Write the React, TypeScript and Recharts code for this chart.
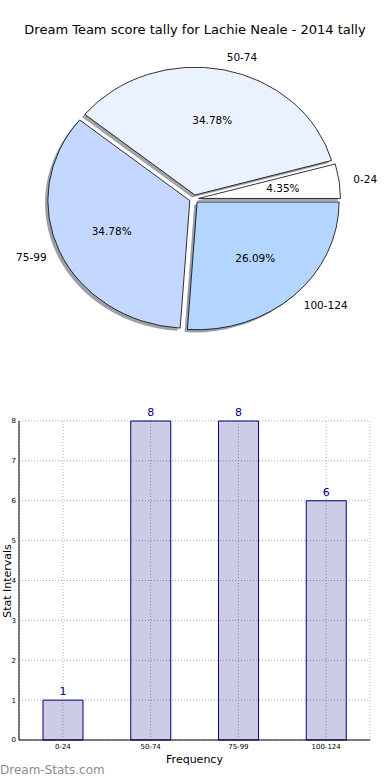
import { PieChart, Pie, Cell, BarChart, Bar, XAxis, YAxis, CartesianGrid, LabelList } from "recharts"

// score bands and how many games fell in each
const bands = ["0-24", "50-74", "75-99", "100-124"]
const counts = [1, 8, 8, 6]

const pieColors = ["#ffffff", "#eaf1ff", "#c4d8ff", "#b3d5ff"]
const FONT = "'DejaVu Sans', sans-serif"

// matplotlib pie was not axis-equal, so the pie is squashed a little
const RY = 0.9
const EXPLODE = 0.032

const rows = bands.map((b, i) => ({ name: b, value: counts[i] }))

// elliptical wedge path
function wedge(ox: number, oy: number, rx: number, ry: number, a0: number, a1: number) {
  const r0 = (a0 * Math.PI) / 180
  const r1 = (a1 * Math.PI) / 180
  const x0 = ox + rx * Math.cos(r0)
  const y0 = oy - ry * Math.sin(r0)
  const x1 = ox + rx * Math.cos(r1)
  const y1 = oy - ry * Math.sin(r1)
  const large = Math.abs(a1 - a0) > 180 ? 1 : 0
  return `M${ox},${oy} L${x0},${y0} A${rx},${ry} 0 ${large} 0 ${x1},${y1} Z`
}

function offsetCenter(p: any) {
  const rad = (p.midAngle * Math.PI) / 180
  const rx = p.outerRadius
  const ry = p.outerRadius * RY
  return {
    ox: p.cx + EXPLODE * rx * Math.cos(rad),
    oy: p.cy - EXPLODE * ry * Math.sin(rad),
    rx,
    ry,
  }
}

function shade(hex: string) {
  const n = parseInt(hex.slice(1), 16)
  const r = Math.round(((n >> 16) & 255) * 0.3)
  const g = Math.round(((n >> 8) & 255) * 0.3)
  const b = Math.round((n & 255) * 0.3)
  return `rgb(${r},${g},${b})`
}

const ShadowShape = (p: any) => {
  const { ox, oy, rx, ry } = offsetCenter(p)
  return <path d={wedge(ox - 2.8, oy + 2.6, rx, ry, p.startAngle, p.endAngle)} fill={shade(p.fill)} fillOpacity={0.5} stroke="none" />
}

const WedgeShape = (p: any) => {
  const { ox, oy, rx, ry } = offsetCenter(p)
  return <path d={wedge(ox, oy, rx, ry, p.startAngle, p.endAngle)} fill={p.fill} stroke="#000" strokeWidth={0.8} />
}

const renderLabel = (p: any) => {
  const { ox, oy, rx, ry } = offsetCenter(p)
  const rad = (p.midAngle * Math.PI) / 180
  const c = Math.cos(rad)
  const s = Math.sin(rad)
  return (
    <g>
      <text x={ox + 1.1 * rx * c} y={oy - 1.1 * ry * s} textAnchor={c > 0 ? "start" : "end"} dominantBaseline="central" fontSize={10.5} fontFamily={FONT} fill="#000">
        {p.name}
      </text>
      <text x={ox + 0.6 * rx * c} y={oy - 0.6 * ry * s} textAnchor="middle" dominantBaseline="central" fontSize={10.5} fontFamily={FONT} fill="#000">
        {(p.percent * 100).toFixed(2)}%
      </text>
    </g>
  )
}

export default function App() {
  return (
    <div style={{ position: "absolute", left: 0, top: 0, width: 390, height: 780, background: "#fff", fontFamily: FONT }}>
      <div style={{ position: "absolute", left: 0, top: 21, width: 390, textAlign: "center", fontSize: 13, lineHeight: "18px" }}>
        Dream Team score tally for Lachie Neale - 2014 tally
      </div>

      <div style={{ position: "absolute", left: 0, top: 0 }}>
        <PieChart width={390} height={380} margin={{ top: 0, right: 0, bottom: 0, left: 0 }}>
          <Pie data={rows} dataKey="value" nameKey="name" cx={194} cy={199} outerRadius={142} startAngle={0} endAngle={360} shape={ShadowShape} isAnimationActive={false}>
            {rows.map((r, i) => (
              <Cell key={r.name} fill={pieColors[i]} />
            ))}
          </Pie>
          <Pie data={rows} dataKey="value" nameKey="name" cx={194} cy={199} outerRadius={142} startAngle={0} endAngle={360} shape={WedgeShape} label={renderLabel} labelLine={false} isAnimationActive={false}>
            {rows.map((r, i) => (
              <Cell key={r.name} fill={pieColors[i]} />
            ))}
          </Pie>
        </PieChart>
      </div>

      <div style={{ position: "absolute", left: 0, top: 0 }}>
        <BarChart width={390} height={780} data={rows} margin={{ top: 421, right: 20, bottom: 0, left: 0 }}>
          <CartesianGrid stroke="#aaa" strokeDasharray="1 2" />
          <XAxis dataKey="name" height={40} tickLine={false} tickSize={2} tickMargin={2} axisLine={{ stroke: "#000" }} tick={{ fontSize: 7, fill: "#000", fontFamily: FONT }} interval={0} />
          <XAxis xAxisId="top" dataKey="name" orientation="top" height={0} tick={false} tickLine={false} axisLine={{ stroke: "#000" }} />
          <YAxis domain={[0, 8]} ticks={[0, 1, 2, 3, 4, 5, 6, 7, 8]} width={19} tickLine={false} tickSize={2} tickMargin={1} axisLine={{ stroke: "#000" }} tick={{ fontSize: 7, fill: "#000", fontFamily: FONT }} />
          <YAxis yAxisId="right" orientation="right" width={0} domain={[0, 8]} tick={false} tickLine={false} axisLine={{ stroke: "#000" }} />
          <Bar dataKey="value" barSize={40} fill="#000080" fillOpacity={0.2} stroke="#000080" strokeWidth={1} isAnimationActive={false}>
            <LabelList dataKey="value" position="top" offset={5} fill="#000080" fontSize={11} fontFamily={FONT} />
          </Bar>
        </BarChart>
      </div>

      <div style={{ position: "absolute", left: 7, top: 581, transform: "translate(-50%, -50%) rotate(-90deg)", fontSize: 11, lineHeight: "13px", whiteSpace: "nowrap" }}>
        Stat Intervals
      </div>
      <div style={{ position: "absolute", left: 19, width: 351, top: 753, textAlign: "center", fontSize: 11, lineHeight: "14px" }}>
        Frequency
      </div>
      <div style={{ position: "absolute", left: 0, top: 762, fontSize: 12, lineHeight: "16px", color: "#8c8c8c" }}>
        Dream-Stats.com
      </div>
    </div>
  )
}
